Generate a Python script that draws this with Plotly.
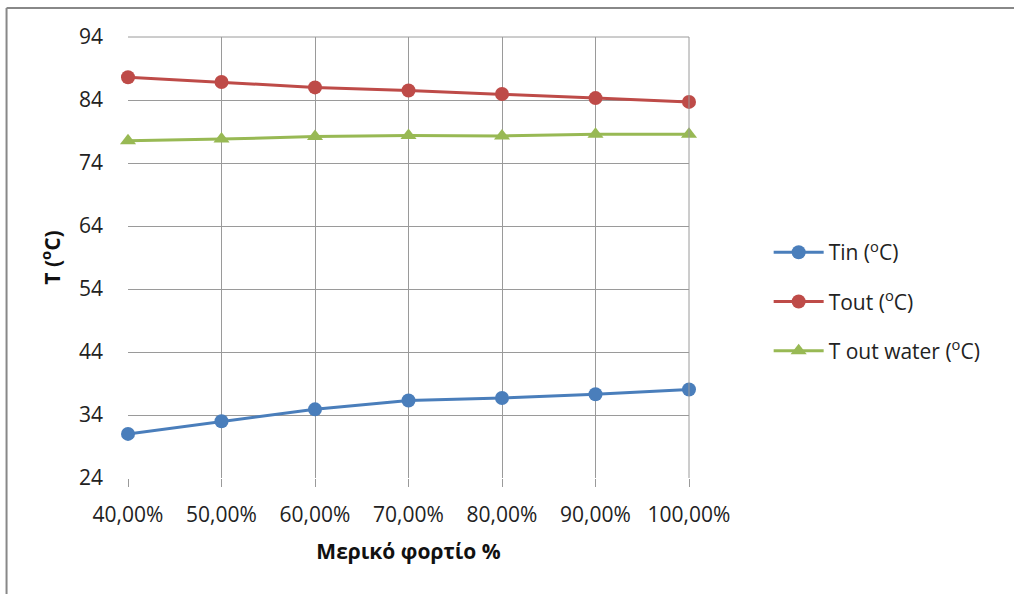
import plotly.graph_objects as go

# Partial load (%) and measured temperatures (°C)
load_pct = [40, 50, 60, 70, 80, 90, 100]
load_labels = ["40,00%", "50,00%", "60,00%", "70,00%", "80,00%", "90,00%", "100,00%"]
t_in = [31.0, 33.0, 34.9, 36.3, 36.7, 37.3, 38.05]
t_out = [87.6, 86.85, 86.0, 85.5, 84.95, 84.3, 83.7]
t_out_water = [77.55, 77.8, 78.2, 78.35, 78.3, 78.55, 78.55]
y_ticks = [24, 34, 44, 54, 64, 74, 84, 94]

FONT = "Open Sans, Lato, sans-serif"
GRID = "#9a9a9a"
FS = 21
DEG = "<sup>o</sup>C"

fig = go.Figure()

series = [
    (f"Tin ({DEG})", t_in, "#4a7ebb", "circle", 14),
    (f"Tout ({DEG})", t_out, "#be4b48", "circle", 14),
    (f"T out water ({DEG})", t_out_water, "#98b954", "triangle-up", 14),
]
for i, (name, vals, color, sym, size) in enumerate(series):
    fig.add_trace(go.Scatter(
        x=load_pct, y=vals, name=name, mode="lines+markers",
        line=dict(color=color, width=3),
        marker=dict(symbol=sym, size=size, color=color),
        legendgroup=f"g{i}",
        cliponaxis=False,
    ))

fig.update_layout(
    width=1014, height=594,
    margin=dict(l=128, r=325, t=37, b=116),
    paper_bgcolor="white", plot_bgcolor="white",
    font=dict(family=FONT, size=FS, color="#222222"),
    showlegend=True,
    legend=dict(
        x=1.142, y=0.40, xanchor="left", yanchor="middle",
        font=dict(family=FONT, size=FS, color="#222222"),
        tracegroupgap=19, traceorder="grouped",
        itemwidth=50, bgcolor="rgba(0,0,0,0)",
    ),
    xaxis=dict(
        range=[40, 100], tickvals=load_pct, ticktext=load_labels,
        showgrid=True, gridcolor=GRID, gridwidth=1,
        ticks="outside", ticklen=8, tickcolor=GRID, tickwidth=1,
        ticklabelstandoff=10,
        showline=False, zeroline=False,
        tickfont=dict(family=FONT, size=FS, color="#222222"),
        title=dict(text="<b>Μερικό φορτίο %</b>", standoff=17,
                   font=dict(family=FONT, size=FS, color="#111111")),
    ),
    yaxis=dict(
        range=[24, 94], tickvals=y_ticks,
        showgrid=True, gridcolor=GRID, gridwidth=1,
        showline=False, zeroline=False, ticks="",
        ticklabelstandoff=24,
        tickfont=dict(family=FONT, size=FS, color="#222222"),
        title=dict(text=f"<b>T ({DEG})</b>", standoff=12,
                   font=dict(family=FONT, size=FS, color="#111111")),
    ),
    shapes=[
        # chart area frame (top and left edges)
        dict(type="line", xref="paper", yref="paper",
             x0=-0.2165, x1=1.6, y0=1.0657, y1=1.0657,
             line=dict(color="#888888", width=2)),
        dict(type="line", xref="paper", yref="paper",
             x0=-0.2165, x1=-0.2165, y0=1.0657, y1=-0.3,
             line=dict(color="#888888", width=2)),
        # right and top edges of plot area
        dict(type="line", xref="paper", yref="paper",
             x0=1, x1=1, y0=0, y1=1, line=dict(color=GRID, width=1)),
        dict(type="line", xref="paper", yref="paper",
             x0=0, x1=1, y0=1, y1=1, line=dict(color=GRID, width=1)),
    ],
)

fig.write_html("out.html")
